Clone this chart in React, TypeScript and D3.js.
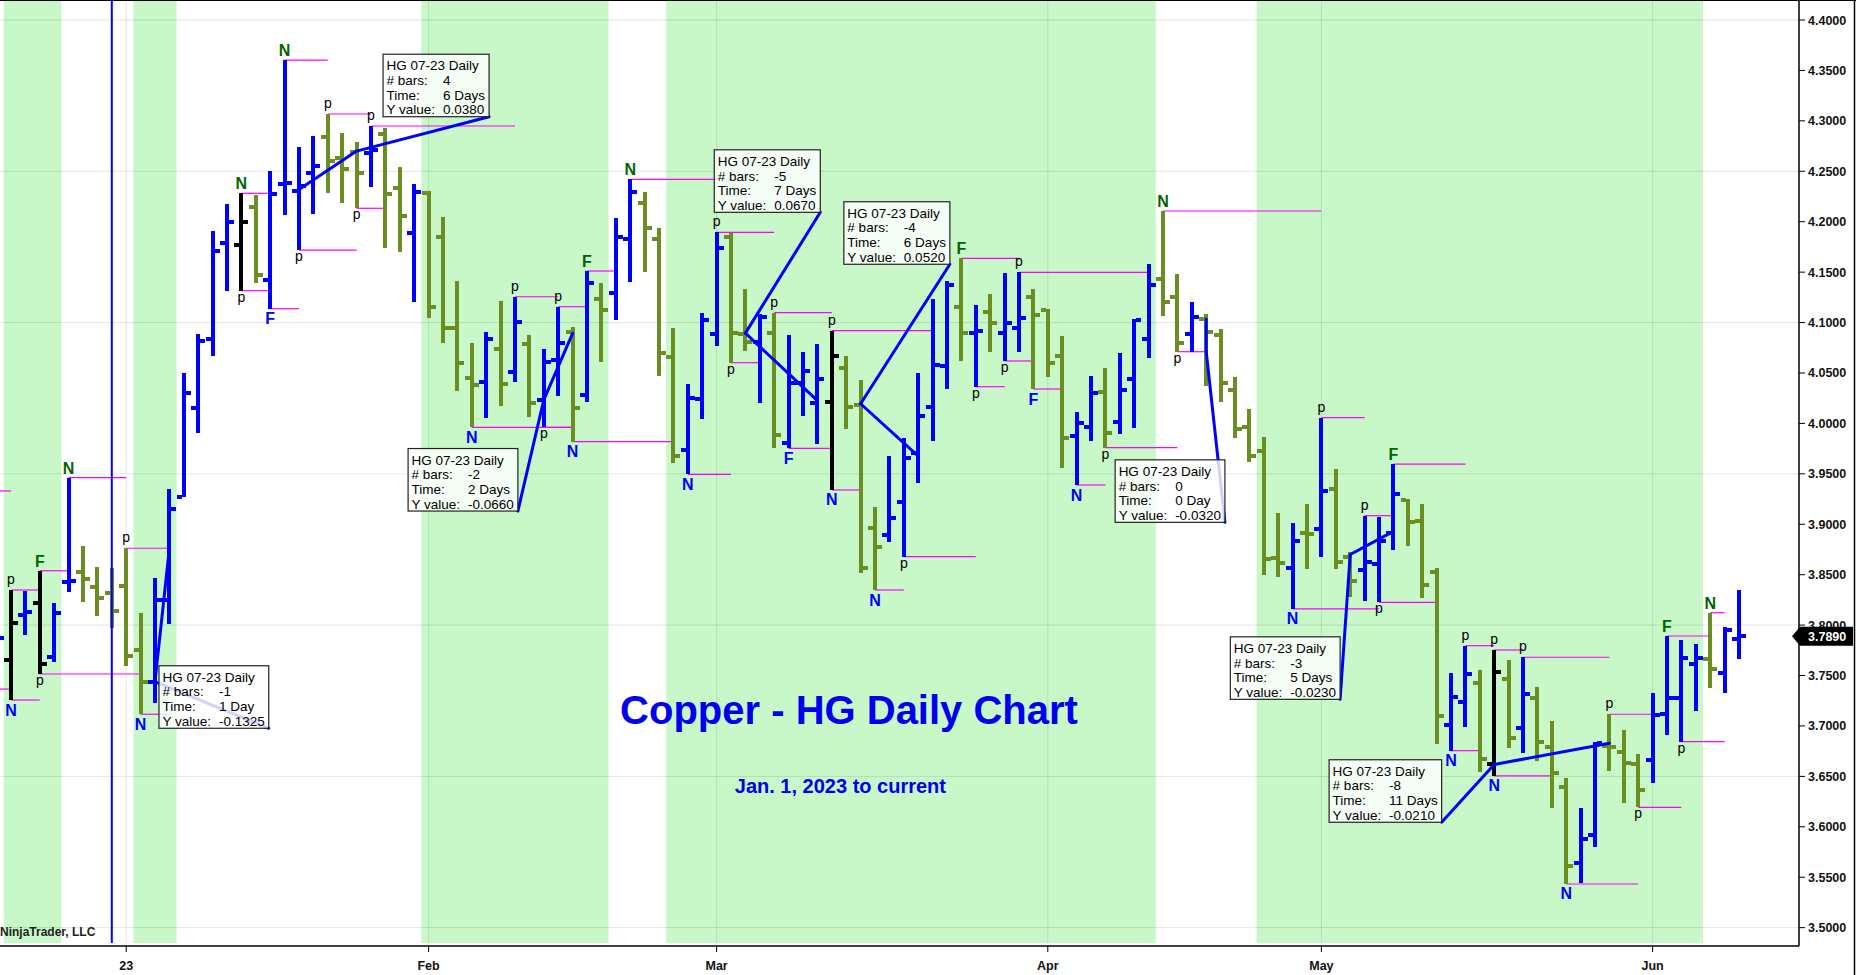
import * as d3 from 'd3';

// bar index of the first entry in the arrays below (one bar sits just off the left edge)
const FIRST_BAR = -1;

// b = blue, g = olive, k = black, one letter per bar from bar -1
const barColors = 'bkbkbbgggg' + 'gbbbbbbkgb' + 'bbbgggbggb' + 'ggggbgbgbb' + 'gbgbbgggbb' +
  'bggbgbbbkg' + 'ggbbbbbgbg' + 'bbgggbbgbb' + 'bggbgggggg' + 'bgbggbbbgg' +
  'gbbgkgbggg' + 'bbgggbbbbg' + 'bb';

const opens = [
  3.7750, 3.7654, 3.8100, 3.8216, 3.7681, 3.8425, 3.8530, 3.8381, 3.8321, 3.8391, 3.7753,
  3.7439, 3.8249, 3.9273, 4.0156, 4.0837, 4.1792, 4.1769, 4.2149, 4.1422, 4.2375,
  4.2307, 4.2486, 4.2837, 4.2635, 4.2691, 4.2678, 4.2867, 4.2337, 4.1885, 4.2285,
  4.1851, 4.0949, 4.0453, 4.0413, 4.0738, 4.0513, 4.0787, 4.0232, 4.0629, 4.0909,
  4.0282, 4.1234, 4.1296, 4.1831, 4.2182, 4.1831, 4.0661, 3.9736, 4.0239, 4.0884,
  4.1851, 4.0887, 4.0804, 4.0893, 3.9809, 4.0398, 4.0205, 4.0215, 4.0552, 4.0182,
  3.8966, 3.8893, 3.9224, 3.9704, 4.0160, 4.0569, 4.1157, 4.0899, 4.1108, 4.0899,
  4.0949, 4.1256, 4.1120, 4.0671, 3.9875, 3.9961, 4.0314, 4.0011, 4.0437, 4.0837,
  4.1429, 4.1256, 4.0887, 4.1035, 4.0880, 4.0331, 3.9967, 3.9729, 3.8662, 3.8569,
  3.8910, 3.8950, 3.9350, 3.8678, 3.8546, 3.8606, 3.8916, 3.9240, 3.9035, 3.8524,
  3.7010, 3.7235, 3.7429, 3.6623, 3.7466, 3.6977, 3.7274, 3.6794, 3.6398, 3.5644,
  3.5919, 3.6801, 3.6739, 3.6620, 3.6662, 3.7119, 3.7274, 3.7614, 3.7661, 3.7526,
  3.7865,
];
const highs = [
  3.8000, 3.8348, 3.8338, 3.8539, 3.8216, 3.9462, 3.8784, 3.8579, 3.8563, 3.8762, 3.8117,
  3.8464, 3.9347, 4.0497, 4.0884, 4.1908, 4.2176, 4.2282, 4.2265, 4.2503, 4.3603,
  4.2738, 4.2850, 4.3068, 4.2877, 4.2787, 4.2949, 4.2926, 4.2539, 4.2371, 4.2300,
  4.2044, 4.1412, 4.0800, 4.0909, 4.1217, 4.1256, 4.0877, 4.0735, 4.1157, 4.0953,
  4.1511, 4.1389, 4.2034, 4.2420, 4.2292, 4.1941, 4.0943, 4.0388, 4.1092, 4.1895,
  4.1890, 4.1330, 4.1085, 4.1098, 4.0877, 4.0705, 4.0787, 4.0919, 4.0671, 4.0430,
  3.9174, 3.9677, 3.9852, 4.0497, 4.1231, 4.1415, 4.1637, 4.1174, 4.1280, 4.1488,
  4.1498, 4.1330, 4.1131, 4.0867, 4.0110, 4.0470, 4.0546, 4.0695, 4.1035, 4.1581,
  4.2106, 4.1478, 4.1201, 4.1082, 4.0933, 4.0463, 4.0140, 3.9862, 3.9115, 3.9009,
  3.9201, 4.0057, 3.9545, 3.8728, 3.9085, 3.9069, 3.9597, 3.9247, 3.9198, 3.8563,
  3.7522, 3.7796, 3.7555, 3.7753, 3.7654, 3.7681, 3.7383, 3.7052, 3.6481, 3.6183,
  3.6844, 3.7116, 3.6960, 3.6722, 3.7324, 3.7892, 3.7852, 3.7810, 3.8123, 3.7984,
  3.8348,
];
const lows = [
  3.7650, 3.7257, 3.7902, 3.7515, 3.7637, 3.8331, 3.8226, 3.8093, 3.7974, 3.7597, 3.7116,
  3.7231, 3.8008, 3.9273, 3.9902, 4.0671, 4.1316, 4.1316, 4.1395, 4.1137, 4.2066,
  4.1719, 4.2076, 4.2282, 4.2182, 4.2133, 4.2347, 4.1742, 4.1703, 4.1207, 4.1042,
  4.0800, 4.0324, 3.9961, 4.0051, 4.0176, 4.0413, 4.0067, 3.9961, 4.0275, 3.9819,
  4.0209, 4.0612, 4.1025, 4.1405, 4.1504, 4.0473, 3.9610, 3.9495, 4.0041, 4.0770,
  4.0602, 4.0721, 4.0205, 3.9753, 3.9753, 4.0076, 3.9793, 3.9340, 3.9942, 3.8518,
  3.8348, 3.8821, 3.8678, 3.9406, 3.9828, 4.0341, 4.0622, 4.0364, 4.0711, 4.0619,
  4.0705, 4.0341, 4.0463, 3.9561, 3.9389, 3.9828, 3.9759, 3.9895, 3.9957, 4.0651,
  4.1065, 4.0711, 4.0711, 4.0374, 4.0209, 3.9852, 3.9620, 3.8497, 3.8480, 3.8160,
  3.8553, 3.8678, 3.8553, 3.8276, 3.8239, 3.8226, 3.8745, 3.8787, 3.8266, 3.6818,
  3.6755, 3.6987, 3.6545, 3.6504, 3.6777, 3.6735, 3.6652, 3.6190, 3.5433, 3.5446,
  3.5803, 3.6557, 3.6239, 3.6193, 3.6430, 3.6910, 3.6844, 3.7151, 3.7379, 3.7324,
  3.7664,
];
const closes = [
  3.7870, 3.8024, 3.8133, 3.7611, 3.8123, 3.8435, 3.8457, 3.8272, 3.8143, 3.7697, 3.7439,
  3.8249, 3.9148, 4.0304, 4.0817, 4.1709, 4.2000, 4.2000, 4.1472, 4.2272, 4.2385,
  4.2357, 4.2555, 4.2605, 4.2523, 4.2486, 4.2711, 4.2275, 4.2057, 4.2297, 4.1151,
  4.0949, 4.0602, 4.0381, 4.0837, 4.0391, 4.1008, 4.0199, 4.0612, 4.0794, 4.0150,
  4.1395, 4.1124, 4.1851, 4.2297, 4.1941, 4.0701, 3.9677, 4.0249, 4.1025, 4.1742,
  4.0899, 4.0804, 4.1058, 3.9885, 4.0404, 4.0523, 4.0440, 4.0668, 4.0164, 3.8569,
  3.8777, 3.9065, 3.9654, 4.0076, 4.0579, 4.1372, 4.0893, 4.0916, 4.0993, 4.0999,
  4.1048, 4.1075, 4.0596, 3.9852, 4.0001, 4.0298, 3.9902, 4.0331, 4.1025, 4.1372,
  4.1207, 4.0800, 4.1052, 4.0909, 4.0398, 3.9942, 3.9680, 3.8652, 3.8611, 3.8837,
  3.8900, 3.9330, 3.8623, 3.8440, 3.8629, 3.8834, 3.9297, 3.9019, 3.8398, 3.7099,
  3.7290, 3.7512, 3.6669, 3.7538, 3.6882, 3.7314, 3.6844, 3.6536, 3.5611, 3.5876,
  3.6828, 3.6788, 3.6630, 3.6365, 3.7109, 3.7274, 3.7677, 3.7677, 3.7565, 3.7951,
  3.7890,
];

// swing markers: [bar, side, text, bar where the pivot line ends]
const pivots: [number, 'H' | 'L', string, number][] = [
  [0, 'H', 'p', 2], [0, 'L', 'N', 2], [2, 'H', 'F', 4], [2, 'L', 'p', 9], [4, 'H', 'N', 8],
  [8, 'H', 'p', 11], [9, 'L', 'N', 11], [16, 'H', 'N', 18], [16, 'L', 'p', 18], [18, 'L', 'F', 20],
  [19, 'H', 'N', 22], [20, 'L', 'p', 24], [22, 'H', 'p', 25], [24, 'L', 'p', 26], [25, 'H', 'p', 35],
  [32, 'L', 'N', 39], [35, 'H', 'p', 38], [37, 'L', 'p', 39], [38, 'H', 'p', 40], [39, 'L', 'N', 46],
  [40, 'H', 'F', 42], [43, 'H', 'N', 49], [47, 'L', 'N', 50], [49, 'H', 'p', 53], [50, 'L', 'p', 52],
  [53, 'H', 'p', 57], [54, 'L', 'F', 57], [57, 'H', 'p', 64], [57, 'L', 'N', 59], [60, 'L', 'N', 62],
  [62, 'L', 'p', 67], [66, 'H', 'F', 70], [67, 'L', 'p', 69], [69, 'L', 'p', 71], [70, 'H', 'p', 79],
  [71, 'L', 'F', 73], [74, 'L', 'N', 76], [76, 'L', 'p', 81], [80, 'H', 'N', 91], [81, 'L', 'p', 83],
  [89, 'L', 'N', 95], [91, 'H', 'p', 94], [94, 'H', 'p', 96], [95, 'L', 'p', 99], [96, 'H', 'F', 101],
  [100, 'L', 'N', 102], [101, 'H', 'p', 103], [103, 'H', 'p', 105], [103, 'L', 'N', 107], [105, 'H', 'p', 111],
  [108, 'L', 'N', 113], [111, 'H', 'p', 114], [113, 'L', 'p', 116], [115, 'H', 'F', 118], [116, 'L', 'p', 119],
  [118, 'H', 'N', 119],
];
// pivot lines coming in from bars left of the chart: [from, to, price]
const edgeLines: [number, number, number][] = [[-4, 0, 3.9330], [-4, 0, 3.7366]];

// shaded sessions [first bar, last bar]
const bands: [number, number][] = [[0, 3], [9, 11], [29, 41], [46, 79], [87, 117]];

const monthBars = [8, 29, 49, 72, 91, 114];
const monthLabels = ['23', 'Feb', 'Mar', 'Apr', 'May', 'Jun'];
const markerBar = 7;

// ruler drawings: start bar/price, end bar/price, info box bottom-right bar/price
const rulerStartBar = [11, 20, 39, 56, 63, 83, 96, 111];
const rulerStartPrice = [3.8765, 4.2320, 4.0893, 4.0225, 3.9675, 4.1035, 3.8930, 3.6828];
const rulerEndBar = [10, 24, 37, 51, 59, 83, 93, 103];
const rulerEndPrice = [3.7440, 4.2700, 4.0233, 4.0895, 4.0195, 4.0715, 3.8700, 3.6618];
const rulerBoxBar = [17.9, 33.2, 35.2, 56.2, 65.2, 84.3, 92.3, 99.35];
const rulerBoxPrice = [3.6977, 4.3041, 3.9131, 4.2093, 4.1578, 3.9019, 3.7264, 3.6045];
const rulerBars = ['-1', '4', '-2', '-5', '-4', '0', '-3', '-8'];
const rulerTime = ['1 Day', '6 Days', '2 Days', '7 Days', '6 Days', '0 Day', '5 Days', '11 Days'];
const rulerY = ['-0.1325', '0.0380', '-0.0660', '0.0670', '0.0520', '-0.0320', '-0.0230', '-0.0210'];

const lastPrice = 3.789;

const W = 1856;
const H = 975;
const PLOT_RIGHT = 1799;
const PLOT_BOTTOM = 943;
const AXIS_Y = 946;
const FONT = 'Liberation Sans, Arial, Helvetica, sans-serif';
const BLUE = '#0000ff';
const OLIVE = '#6b8e23';
const colorOf: Record<string, string> = { b: BLUE, g: OLIVE, k: '#000000' };

let ctx: CanvasRenderingContext2D | null = null;
function textWidth(s: string, font: string) {
  if (!ctx) ctx = document.createElement('canvas').getContext('2d');
  if (!ctx) return s.length * 7;
  ctx.font = font;
  return ctx.measureText(s).width;
}

export default function App() {
  const x = d3.scaleLinear().domain([0, 120]).range([11, 1739]);
  const y = d3.scaleLinear().domain([3.5, 4.4]).range([927.65, 20]);
  const bx = (i: number) => Math.round(x(i + FIRST_BAR));

  const priceTicks = d3.range(0, 19).map(k => 3.5 + k * 0.05);
  const gridPrices = d3.range(0, 7).map(k => 3.5 + k * 0.15);

  const boxFont = `13.5px ${FONT}`;

  return (
    <div style={{ position: 'fixed', left: 0, top: 0 }}>
      <svg width={W} height={H} style={{ display: 'block', fontFamily: FONT }}>
        <rect x={0} y={0} width={W} height={H} fill="#fff" />

        {bands.map(([a, b], i) => (
          <rect key={i} x={x(a) - 7.2} y={1} width={x(b) - x(a) + 14.4} height={PLOT_BOTTOM - 1} fill="#c8f7c8" />
        ))}

        {gridPrices.map(p => (
          <line key={p} x1={0} x2={PLOT_RIGHT} y1={y(p)} y2={y(p)} stroke="#000" strokeOpacity={0.1} />
        ))}
        {monthBars.map(m => (
          <line key={m} x1={x(m)} x2={x(m)} y1={1} y2={PLOT_BOTTOM} stroke="#000" strokeOpacity={0.1} />
        ))}

        {edgeLines.map(([a, b, p], i) => (
          <line key={i} x1={Math.max(0, x(a))} x2={x(b)} y1={y(p)} y2={y(p)} stroke="#ff00ff" strokeWidth={1.2} />
        ))}
        {pivots.map(([bar, side, , end], i) => {
          const idx = bar - FIRST_BAR;
          const p = side === 'H' ? highs[idx] : lows[idx];
          return <line key={i} x1={x(bar)} x2={x(end)} y1={y(p)} y2={y(p)} stroke="#ff00ff" strokeWidth={1.2} />;
        })}

        <g shapeRendering="crispEdges">
          {opens.map((o, i) => {
            const cx = bx(i);
            const c = colorOf[barColors[i]] || BLUE;
            const yh = Math.round(y(highs[i]));
            const yl = Math.round(y(lows[i]));
            return (
              <g key={i} fill={c}>
                <rect x={cx - 2} y={yh} width={4} height={Math.max(2, yl - yh)} />
                <rect x={cx - 7} y={Math.round(y(o) - 2)} width={5} height={4} />
                <rect x={cx + 2} y={Math.round(y(closes[i]) - 2)} width={5} height={4} />
              </g>
            );
          })}
        </g>

        <line x1={x(markerBar)} x2={x(markerBar)} y1={1} y2={PLOT_BOTTOM} stroke={BLUE} strokeWidth={2} />

        {pivots.map(([bar, side, t], i) => {
          const idx = bar - FIRST_BAR;
          const isP = t === 'p';
          const yy = side === 'H'
            ? y(highs[idx]) - (isP ? 6 : 4)
            : y(lows[idx]) + (isP ? 11 : 15.5);
          const fill = isP ? '#000' : side === 'H' ? '#006400' : BLUE;
          return (
            <text key={i} x={x(bar)} y={yy} textAnchor="middle" fill={fill}
              fontSize={isP ? 14 : 16} fontWeight={isP ? 'normal' : 'bold'}>{t}</text>
          );
        })}

        {rulerStartBar.map((sb, i) => {
          const sx = x(sb), sy = y(rulerStartPrice[i]);
          const ex = x(rulerEndBar[i]), ey = y(rulerEndPrice[i]);
          const brx = x(rulerBoxBar[i]), bry = y(rulerBoxPrice[i]);
          return (
            <g key={i} stroke={BLUE} strokeWidth={3} fill="none" strokeLinecap="round">
              <line x1={sx} y1={sy} x2={ex} y2={ey} />
              <line x1={ex} y1={ey} x2={brx} y2={bry} />
            </g>
          );
        })}

        {rulerStartBar.map((_, i) => {
          const values = [rulerBars[i], rulerTime[i], rulerY[i]];
          const w = Math.max(
            textWidth('HG 07-23 Daily', boxFont) + 8,
            60 + d3.max(values, v => textWidth(v, boxFont))! + 4,
          );
          const h = 62.5;
          const brx = x(rulerBoxBar[i]), bry = y(rulerBoxPrice[i]);
          const x0 = brx - w, y0 = bry - h;
          const names = ['# bars:', 'Time:', 'Y value:'];
          return (
            <g key={i} fontSize={13.5} fill="#000">
              <rect x={x0} y={y0} width={w} height={h} fill="#fff" fillOpacity={0.82} stroke="#222" strokeWidth={1.2} />
              <text x={x0 + 3.5} y={y0 + 16}>HG 07-23 Daily</text>
              {names.map((n, k) => (
                <g key={n}>
                  <text x={x0 + 3.5} y={y0 + 30.7 + k * 14.7}>{n}</text>
                  <text x={x0 + 60} y={y0 + 30.7 + k * 14.7}>{values[k]}</text>
                </g>
              ))}
            </g>
          );
        })}

        <text x={849} y={724} textAnchor="middle" fill="#0000f0" fontSize={40} fontWeight="bold">
          Copper - HG Daily Chart
        </text>
        <text x={840.4} y={793.3} textAnchor="middle" fill="#0000f0" fontSize={20} fontWeight="bold">
          Jan. 1, 2023 to current
        </text>

        <text x={0} y={936} fontSize={12} fontWeight="bold" fill="#222">NinjaTrader, LLC</text>

        {/* frame and axes */}
        <line x1={0} x2={W} y1={0.5} y2={0.5} stroke="#000" />
        <line x1={W - 1.5} x2={W - 1.5} y1={0} y2={H} stroke="#000" strokeWidth={1.5} />
        <line x1={PLOT_RIGHT} x2={PLOT_RIGHT} y1={0} y2={AXIS_Y} stroke="#000" strokeWidth={1.5} />
        <line x1={0} x2={PLOT_RIGHT} y1={AXIS_Y} y2={AXIS_Y} stroke="#000" strokeWidth={1.5} />

        {priceTicks.map(p => (
          <g key={p}>
            <line x1={PLOT_RIGHT} x2={PLOT_RIGHT + 6} y1={y(p)} y2={y(p)} stroke="#000" />
            <text x={PLOT_RIGHT + 9} y={y(p) + 4.5} fontSize={12.5} fontWeight="bold" fill="#111">{p.toFixed(4)}</text>
          </g>
        ))}
        {monthBars.map((m, i) => (
          <g key={m}>
            <line x1={x(m)} x2={x(m)} y1={AXIS_Y} y2={AXIS_Y + 6} stroke="#000" />
            <text x={x(m)} y={970} textAnchor="middle" fontSize={12.5} fontWeight="bold" fill="#111">{monthLabels[i]}</text>
          </g>
        ))}

        <g>
          <polygon
            points={`${PLOT_RIGHT - 7},${y(lastPrice)} ${PLOT_RIGHT + 1},${y(lastPrice) - 9.5} ${W - 3},${y(lastPrice) - 9.5} ${W - 3},${y(lastPrice) + 9.5} ${PLOT_RIGHT + 1},${y(lastPrice) + 9.5}`}
            fill="#000"
          />
          <text x={PLOT_RIGHT + 9} y={y(lastPrice) + 4.5} fontSize={12.5} fontWeight="bold" fill="#fff">
            {lastPrice.toFixed(4)}
          </text>
        </g>
      </svg>
    </div>
  );
}
